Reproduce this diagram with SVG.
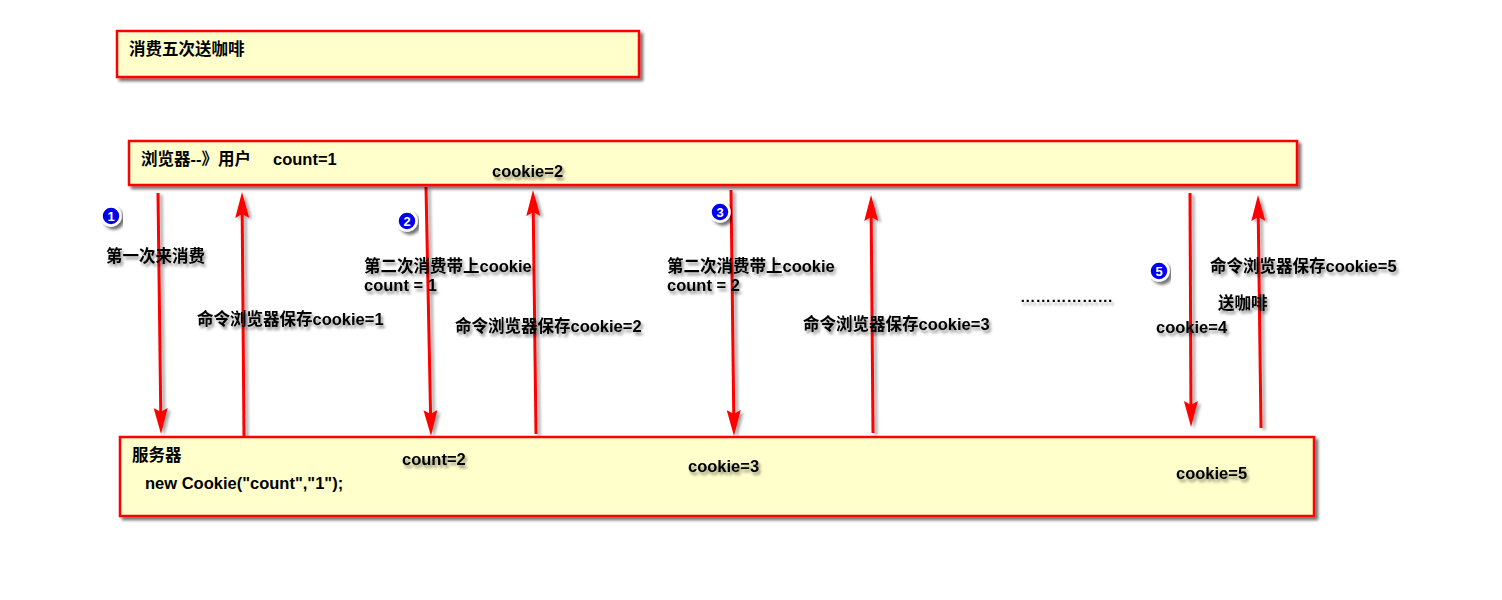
<svg xmlns="http://www.w3.org/2000/svg" width="1502" height="600" viewBox="0 0 1502 600">
<style>
.box{fill:#FFFFCC;stroke:#FF0000;stroke-width:2.5;filter:url(#boxShadow)}
.t{font-family:"Liberation Sans","Noto Sans CJK SC",sans-serif;font-size:16.5px;font-weight:bold;fill:#000}
.sh{filter:url(#txtShadow)}
.arrow{fill:none;stroke:#FF0000;stroke-width:3;marker-end:url(#head)}
.badge circle{fill:#0000EE;stroke:#FFFFFF;stroke-width:2.5;filter:url(#boxShadow)}
.badge text{font-family:"Liberation Sans",sans-serif;font-size:13px;font-weight:bold;fill:#FFFFFF;text-anchor:middle}
</style>
<defs>
<filter id="boxShadow" x="-10%" y="-20%" width="120%" height="160%">
<feGaussianBlur in="SourceAlpha" stdDeviation="1.8"/>
<feOffset dx="3" dy="3" result="b"/>
<feComponentTransfer><feFuncA type="linear" slope="0.55"/></feComponentTransfer>
<feMerge><feMergeNode/><feMergeNode in="SourceGraphic"/></feMerge>
</filter>
<filter id="txtShadow" x="-10%" y="-30%" width="130%" height="180%">
<feGaussianBlur in="SourceAlpha" stdDeviation="1.6"/>
<feOffset dx="2" dy="3" result="b"/>
<feComponentTransfer><feFuncA type="linear" slope="0.45"/></feComponentTransfer>
<feMerge><feMergeNode/><feMergeNode in="SourceGraphic"/></feMerge>
</filter>
<filter id="lineShadow" x="-50%" y="-5%" width="200%" height="110%">
<feGaussianBlur in="SourceAlpha" stdDeviation="1.5"/>
<feOffset dx="3" dy="2" result="b"/>
<feComponentTransfer><feFuncA type="linear" slope="0.35"/></feComponentTransfer>
<feMerge><feMergeNode/><feMergeNode in="SourceGraphic"/></feMerge>
</filter>
<marker id="head" viewBox="0 0 26 14" refX="16" refY="7" markerWidth="26" markerHeight="14" markerUnits="userSpaceOnUse" orient="auto">
<path d="M0,0 L26,7 L0,14 L4,7 Z" fill="#FF0000"/>
</marker>
</defs>

<g id="connectors" filter="url(#lineShadow)">
<path class="arrow" d="M158,193 L160.9,424"/>
<path class="arrow" d="M244,437 L242.1,202"/>
<path class="arrow" d="M426,187 L430.8,426"/>
<path class="arrow" d="M536,434 L533.1,200"/>
<path class="arrow" d="M731,190 L733.9,426"/>
<path class="arrow" d="M873,433 L871.1,205"/>
<path class="arrow" d="M1190,193 L1191,417"/>
<path class="arrow" d="M1261,428 L1258.1,205"/>
</g>

<g id="title">
<rect class="box" x="117" y="31" width="522" height="46"/>
<text class="t" x="129" y="55">消费五次送咖啡</text>
</g>

<g id="browser">
<rect class="box" x="129" y="141" width="1168" height="44"/>
<text class="t" x="141" y="165">浏览器--》用户</text>
<text class="t" x="273" y="165">count=1</text>
<text class="t sh" x="492" y="177">cookie=2</text>
</g>

<g id="server">
<rect class="box" x="120" y="437" width="1194" height="79"/>
<text class="t" x="132" y="461">服务器</text>
<text class="t" x="145" y="489">new Cookie("count","1");</text>
<text class="t sh" x="402" y="465">count=2</text>
<text class="t sh" x="688" y="472">cookie=3</text>
<text class="t sh" x="1176" y="479">cookie=5</text>
</g>

<g id="badge1" class="badge"><circle cx="111" cy="216" r="9.5"/><text x="111" y="220.5">1</text></g>
<g id="badge2" class="badge"><circle cx="407" cy="221" r="9.5"/><text x="407" y="225.5">2</text></g>
<g id="badge3" class="badge"><circle cx="720" cy="212" r="9.5"/><text x="720" y="216.5">3</text></g>
<g id="badge5" class="badge"><circle cx="1159" cy="271" r="9.5"/><text x="1159" y="275.5">5</text></g>

<g id="labels" class="sh">
<text class="t" x="106" y="262">第一次来消费</text>
<text class="t" x="197" y="325">命令浏览器保存cookie=1</text>
<text class="t" x="364" y="272">第二次消费带上cookie</text>
<text class="t" x="364" y="291">count = 1</text>
<text class="t" x="455" y="332">命令浏览器保存cookie=2</text>
<text class="t" x="667" y="272">第二次消费带上cookie</text>
<text class="t" x="667" y="291">count = 2</text>
<text class="t" x="803" y="330">命令浏览器保存cookie=3</text>
<text class="t" x="1020" y="302" style="font-size:15.5px">………………</text>
<text class="t" x="1210" y="272">命令浏览器保存cookie=5</text>
<text class="t" x="1218" y="309">送咖啡</text>
<text class="t" x="1156" y="333">cookie=4</text>
</g>
</svg>
